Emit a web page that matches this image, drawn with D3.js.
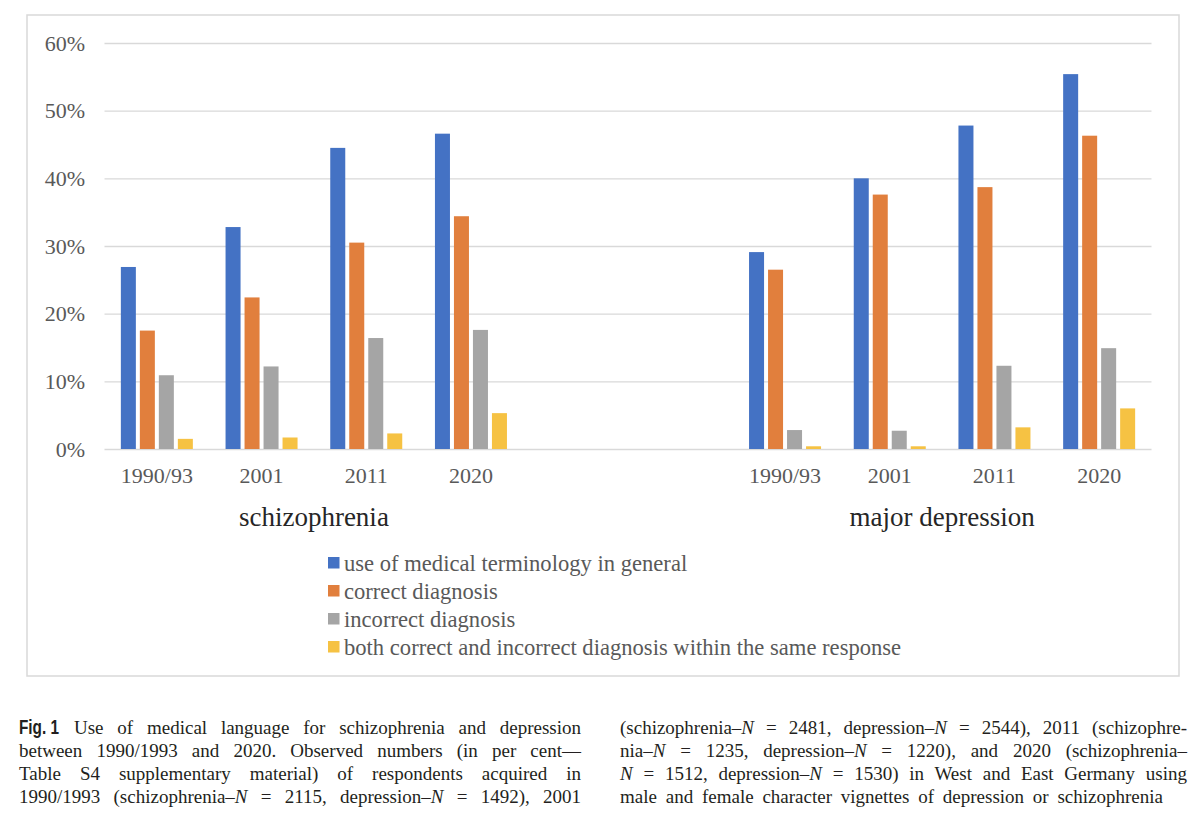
<!DOCTYPE html>
<html><head><meta charset="utf-8">
<script src="https://cdn.jsdelivr.net/npm/d3@7"></script>
<style>html,body{margin:0;padding:0;background:#fff;}svg{display:block;}</style>
</head><body>
<svg id="c" width="1200" height="831"></svg>
<script>
// ---- data ----
const years = ["1990/93", "2001", "2011", "2020"];
const groups = ["schizophrenia", "major depression"];
const seriesNames = [
  "use of medical terminology in general",
  "correct diagnosis",
  "incorrect diagnosis",
  "both correct and incorrect diagnosis within the same response"
];
// per cent, order: schizophrenia 1990/93..2020, then major depression 1990/93..2020
const medicalTerminology = [26.9, 32.8, 44.5, 46.6, 29.1, 40.0, 47.8, 55.4];
const correctDiagnosis   = [17.5, 22.4, 30.5, 34.4, 26.5, 37.6, 38.7, 46.3];
const incorrectDiagnosis = [10.9, 12.2, 16.4, 17.6, 2.8, 2.7, 12.3, 14.9];
const bothDiagnoses      = [1.5, 1.7, 2.3, 5.3, 0.4, 0.4, 3.2, 6.0];
const yTicks = [0, 10, 20, 30, 40, 50, 60];
const colors = ["#4472C4", "#E17F3D", "#A5A5A5", "#F6C243"];

const captionLeft = [
  "Use of medical language for schizophrenia and depression",
  "between 1990/1993 and 2020. Observed numbers (in per cent—",
  "Table S4 supplementary material) of respondents acquired in",
  "1990/1993 (schizophrenia–*N* = 2115, depression–*N* = 1492), 2001"
];
const captionRight = [
  "(schizophrenia–*N* = 2481, depression–*N* = 2544), 2011 (schizophre-",
  "nia–*N* = 1235, depression–*N* = 1220), and 2020 (schizophrenia–",
  "*N* = 1512, depression–*N* = 1530) in West and East Germany using",
  "male and female character vignettes of depression or schizophrenia"
];

// ---- build ----
const svg = d3.select("#c");
const serif = "'Liberation Serif','Times New Roman',serif";
const textCol = "#595959";

// frame
svg.append("rect").attr("x", 27).attr("y", 15).attr("width", 1152).attr("height", 661)
  .attr("fill", "#fff").attr("stroke", "#d9d9d9").attr("stroke-width", 1.5);

const series = [medicalTerminology, correctDiagnosis, incorrectDiagnosis, bothDiagnoses];
const slots = d3.range(10);
const slotOf = i => (i < 4 ? i : i + 2);
const slotLabel = s => (s < 4 ? years[s] : s >= 6 ? years[s - 6] : "");

const x = d3.scaleBand().domain(slots).range([104.5, 1151.5]).padding(0);
const xs = d3.scaleBand().domain(d3.range(4)).range([-36, 36]).paddingInner(0.21);
const y = d3.scaleLinear().domain([0, 60]).range([449, 43]);

// grid + y axis
const yAxis = svg.append("g").attr("transform", "translate(104.5,0)")
  .call(d3.axisLeft(y).tickValues(yTicks).tickSize(-1047).tickPadding(19.5).tickFormat(d => d + "%"));
yAxis.select(".domain").remove();
yAxis.selectAll(".tick line").attr("stroke", "#d9d9d9").attr("stroke-width", 1.3);
yAxis.selectAll(".tick text").attr("font-family", serif).attr("font-size", 22).attr("fill", textCol);

// bars
const cats = d3.range(8);
series.forEach((vals, si) => {
  svg.append("g").selectAll("rect").data(cats).join("rect")
    .attr("x", i => x(slotOf(i)) + x.bandwidth() / 2 + xs(si))
    .attr("width", xs.bandwidth())
    .attr("y", i => y(vals[i]))
    .attr("height", i => y(0) - y(vals[i]))
    .attr("fill", colors[si]);
});

// x axis
const xAxis = svg.append("g").attr("transform", "translate(0,449)")
  .call(d3.axisBottom(x).tickSize(0).tickPadding(18).tickFormat(slotLabel));
xAxis.select(".domain").remove();
xAxis.selectAll(".tick text").attr("font-family", serif).attr("font-size", 22).attr("fill", textCol);

// group labels
const groupCenters = [x(2), x(8)];
svg.append("g").selectAll("text").data(groups).join("text")
  .attr("x", (d, i) => groupCenters[i]).attr("y", 526)
  .attr("text-anchor", "middle").attr("font-family", serif).attr("font-size", 27)
  .attr("fill", "#262626").text(d => d);

// legend
const lg = svg.append("g").attr("transform", "translate(328,563)");
const row = lg.selectAll("g").data(seriesNames).join("g")
  .attr("transform", (d, i) => `translate(0,${i * 28})`);
row.append("rect").attr("x", 0).attr("y", -6).attr("width", 11.5).attr("height", 11.5)
  .attr("fill", (d, i) => colors[i]);
row.append("text").attr("x", 16).attr("y", 7.5).attr("font-family", serif)
  .attr("font-size", 22.6).attr("fill", textCol).text(d => d);

// caption
const capY = [734, 757, 780, 803];
function captionLine(str, x0, x1, yy) {
  const t = svg.append("text").attr("x", x0).attr("y", yy)
    .attr("font-family", serif).attr("font-size", 19).attr("fill", "#231f20");
  str.split("*").forEach((part, k) => {
    if (!part) return;
    const sp = t.append("tspan").text(part);
    if (k % 2 === 1) sp.attr("font-style", "italic");
  });
  const len = t.node().getComputedTextLength();
  const nSp = (str.match(/ /g) || []).length;
  if (nSp > 0) t.attr("word-spacing", ((x1 - x0) - len) / nSp);
  return t;
}
svg.append("text").attr("x", 19).attr("y", capY[0])
  .attr("font-family", "'Liberation Sans Narrow','Liberation Sans',Arial,sans-serif")
  .attr("font-weight", "bold").attr("font-size", 20).attr("fill", "#231f20")
  .attr("textLength", 40).attr("lengthAdjust", "spacingAndGlyphs").text("Fig. 1");
captionLeft.forEach((s, i) => captionLine(s, i === 0 ? 74 : 19, 581, capY[i]));
captionRight.forEach((s, i) => captionLine(s, 620, i === 3 ? 1163 : 1187, capY[i]));
</script>
</body></html>
